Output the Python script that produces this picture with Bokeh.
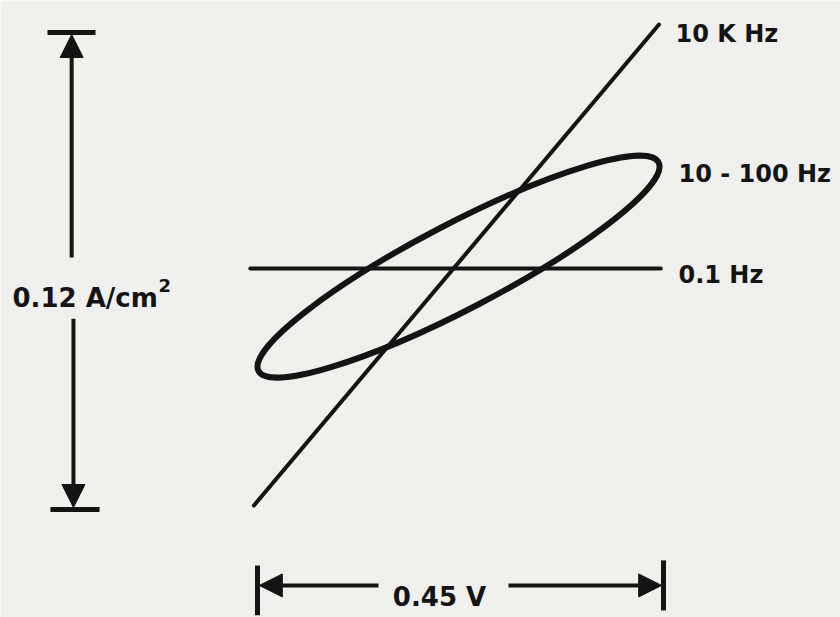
import numpy as np
from bokeh.plotting import figure
from bokeh.models import Range1d, Arrow, NormalHead, Label
from bokeh.embed import file_html
from bokeh.resources import INLINE

# ---- data (V in volts, I in A/cm^2) ----
v_span = [-0.225, 0.225]          # 0.45 V peak-to-peak excursion
i_span = [-0.06, 0.06]            # 0.12 A/cm^2 peak-to-peak
trace_10k_v = [-0.229, 0.220]     # 10 KHz trace (straight line)
trace_10k_i = [-0.059, 0.062]
trace_01_v = [-0.233, 0.222]      # 0.1 Hz trace (flat line)
trace_01_i = [0.0006, 0.0006]
loop_v_center = -0.0022           # 10 - 100 Hz loop
loop_i_center = 0.0011
loop_v_amp = 0.2228
loop_i_amp = 0.0279
loop_phase_deg = 25.6
labels = ["10 K Hz", "10 - 100 Hz", "0.1 Hz"]
v_label = "0.45 V"
i_label = "0.12 A/cm"

# ---- layout ----
W, H = 840, 617
x0, x1 = -0.50987, 0.42119
y1 = 0.06805
y0 = y1 - H / 3975.0
INK = "#141414"
BG = "#efefed"
FONT = "DejaVu Sans"

p = figure(width=W, height=H, x_range=Range1d(x0, x1), y_range=Range1d(y0, y1),
           output_backend="svg", toolbar_location=None,
           x_axis_location=None, y_axis_location=None, min_border=0)
p.grid.visible = False
p.outline_line_color = None
p.background_fill_color = BG
p.border_fill_color = BG

# traces
p.line(trace_10k_v, trace_10k_i, line_color=INK, line_width=4, line_cap="round")
p.line(trace_01_v, trace_01_i, line_color=INK, line_width=4, line_cap="round")

# loop as ellipse (Lissajous V=a cos t, I=b cos(t-phi)) -> rotated screen ellipse
kx = W / (x1 - x0)
ky = H / (y1 - y0)
Ax = loop_v_amp * kx
Ay = loop_i_amp * ky
phi = np.radians(loop_phase_deg)
M = np.array([[Ax * Ax, Ax * Ay * np.cos(phi)], [Ax * Ay * np.cos(phi), Ay * Ay]])
vals, vecs = np.linalg.eigh(M)
major = 2 * np.sqrt(vals[1])
minor = 2 * np.sqrt(vals[0])
ang = float(np.arctan2(vecs[1, 1], vecs[0, 1]))
if ang > np.pi / 2:
    ang -= np.pi
if ang < -np.pi / 2:
    ang += np.pi
p.ellipse(x=[loop_v_center], y=[loop_i_center], width=[major / kx], height=[minor / ky],
          angle=ang, fill_color=None, line_color=INK, line_width=6)

# vertical dimension arrow (0.12 A/cm^2)
xv = -0.431
p.segment(x0=[-0.4578, -0.4545], y0=[i_span[1], i_span[0]],
          x1=[-0.4046, -0.4001], y1=[i_span[1], i_span[0]], line_color=INK, line_width=5)
head = dict(size=23, fill_color=INK, line_color=INK, line_width=1)
p.add_layout(Arrow(end=NormalHead(**head), x_start=xv, y_start=0.0034, x_end=xv, y_end=i_span[1] - 0.0005,
                   line_color=INK, line_width=4))
p.add_layout(Arrow(end=NormalHead(**head), x_start=xv + 0.002, y_start=-0.0120, x_end=xv + 0.002, y_end=i_span[0] + 0.0005,
                   line_color=INK, line_width=4))

# horizontal dimension arrow (0.45 V)
yh = -0.0791
p.segment(x0=[v_span[0], v_span[1]], y0=[-0.0741, -0.0728],
          x1=[v_span[0], v_span[1]], y1=[-0.0866, -0.0854], line_color=INK, line_width=5)
p.add_layout(Arrow(end=NormalHead(**head), x_start=-0.0909, y_start=yh, x_end=v_span[0] + 0.002, y_end=yh,
                   line_color=INK, line_width=4))
p.add_layout(Arrow(end=NormalHead(**head), x_start=0.0532, y_start=yh, x_end=v_span[1] - 0.002, y_end=yh,
                   line_color=INK, line_width=4))

# text
lab = dict(text_font=FONT, text_font_style="bold", text_color=INK, text_baseline="alphabetic")
p.add_layout(Label(x=0.2383, y=0.0597, text=labels[0], text_font_size="24px", **lab))
p.add_layout(Label(x=0.2416, y=0.0245, text=labels[1], text_font_size="24px", **lab))
p.add_layout(Label(x=0.2416, y=-0.0011, text=labels[2], text_font_size="24px", **lab))
p.add_layout(Label(x=-0.0233, y=-0.0821, text=v_label, text_align="center", text_font_size="26px", **lab))
p.add_layout(Label(x=-0.4966, y=-0.00667, text=i_label, text_font_size="26px", **lab))
p.add_layout(Label(x=-0.3347, y=-0.00365, text="2", text_font_size="18px", **lab))

open("out.html", "w").write(file_html(p, INLINE))
